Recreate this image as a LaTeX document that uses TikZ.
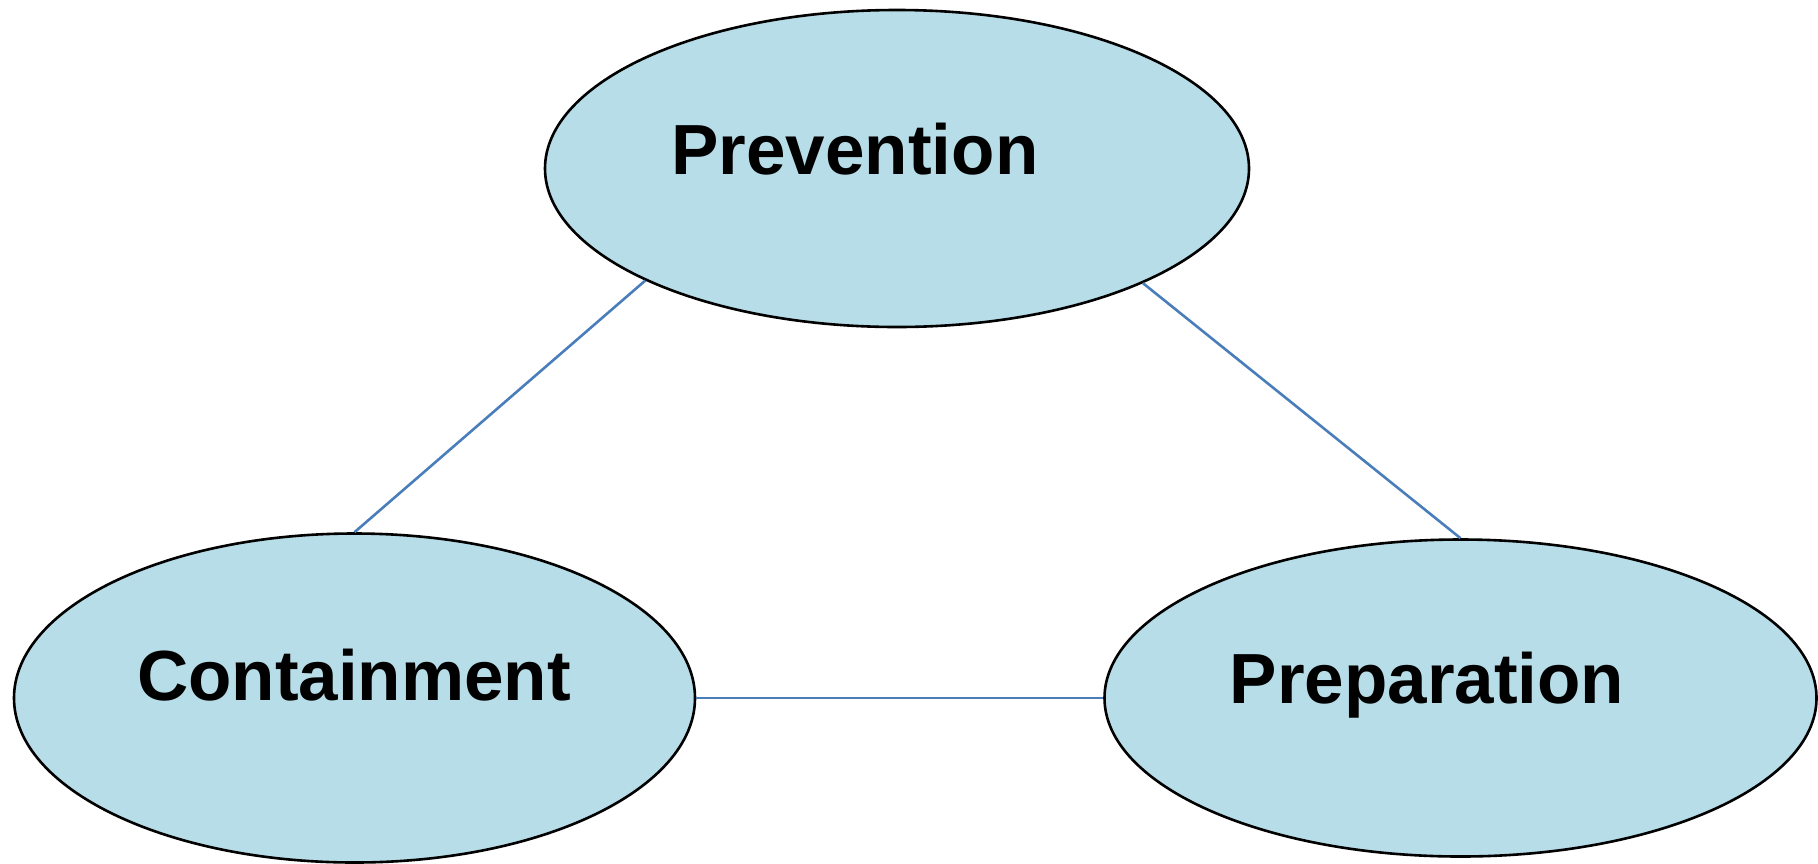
\documentclass[tikz,border=0pt]{standalone}
\usepackage{fontspec}
\setmainfont{Liberation Sans}
\usetikzlibrary{shapes.geometric}
\definecolor{fillblue}{HTML}{B7DDE8}
\definecolor{linkblue}{HTML}{4A7EBB}
\begin{document}
\begin{tikzpicture}[x=1pt,y=-1pt,
 oval/.style={ellipse, draw=black, line width=2.6pt, fill=fillblue, inner sep=0pt},
 lbl/.style={font=\fontsize{71}{85}\selectfont\bfseries, anchor=base, inner sep=0pt},
 link/.style={draw=linkblue, line width=2.6pt}]
\useasboundingbox (0,0) rectangle (1818,863);
\node[oval, minimum width=704pt, minimum height=317pt] (prev) at (897,168.5) {};
\node[oval, minimum width=681pt, minimum height=329pt] (cont) at (354.5,698) {};
\node[oval, minimum width=712pt, minimum height=317pt] (prep) at (1460.5,698) {};
\node[lbl] (tprev) at (855,174) {Prevention};
\node[lbl] (tcont) at (354,700) {Containment};
\node[lbl] (tprep) at (1427,703) {Preparation};
\draw[link] (prev.204.3) -- (cont.north);
\draw[link] (prev.335.8) -- (prep.north);
\draw[link] (cont.east) -- (prep.west);
\end{tikzpicture}
\end{document}
